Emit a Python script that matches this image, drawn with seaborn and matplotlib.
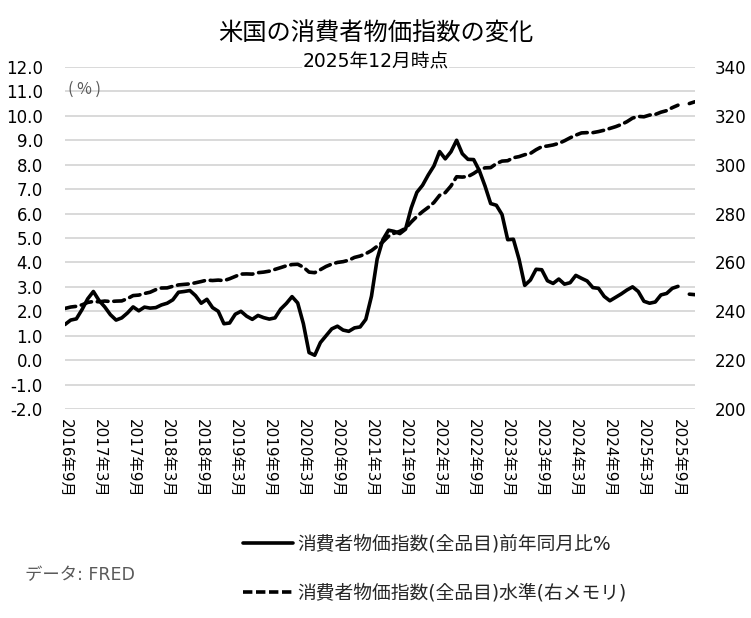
import numpy as np
import pandas as pd
import matplotlib
matplotlib.use('Agg')
import matplotlib.pyplot as plt
from matplotlib.lines import Line2D
import seaborn as sns

# Monthly data, 2016年9月 .. 2025年12月 (2025年10月 missing)
months = pd.date_range('2016-09-01', '2025-12-01', freq='MS')

cpi_yoy = [
    1.46, 1.64, 1.69, 2.07,
    2.51, 2.81, 2.44, 2.18, 1.86, 1.64, 1.73, 1.93, 2.18, 2.02, 2.17, 2.13,
    2.15, 2.26, 2.33, 2.47, 2.78, 2.81, 2.85, 2.64, 2.33, 2.49, 2.15, 2.00,
    1.49, 1.52, 1.88, 2.00, 1.80, 1.67, 1.83, 1.74, 1.68, 1.73, 2.09, 2.32,
    2.60, 2.34, 1.49, 0.31, 0.20, 0.72, 1.00, 1.28, 1.39, 1.23, 1.18, 1.32,
    1.36, 1.67, 2.62, 4.14, 4.93, 5.32, 5.27, 5.18, 5.36, 6.23, 6.87, 7.16,
    7.58, 7.95, 8.54, 8.24, 8.53, 9.00, 8.45, 8.22, 8.21, 7.76, 7.13, 6.41,
    6.34, 5.96, 4.93, 4.95, 4.13, 3.06, 3.28, 3.72, 3.70, 3.25, 3.14, 3.32,
    3.11, 3.17, 3.47, 3.35, 3.24, 2.97, 2.94, 2.61, 2.43, 2.57, 2.71, 2.87,
    3.00, 2.81, 2.41, 2.33, 2.38, 2.67, 2.73, 2.94, 3.02, np.nan, 2.70, 2.68,
]

cpi_level = [
    241.176, 241.741, 242.026, 242.637,
    243.618, 244.006, 243.892, 244.193, 244.004, 244.163, 244.243, 245.183, 246.435, 246.626, 247.284, 247.805,
    248.859, 249.529, 249.577, 250.227, 250.792, 251.018, 251.214, 251.663, 252.182, 252.772, 252.594, 252.767,
    252.561, 253.319, 254.277, 255.233, 255.296, 255.213, 255.802, 256.036, 256.430, 257.155, 257.879, 258.630,
    259.127, 259.250, 258.076, 256.032, 255.802, 257.042, 258.352, 259.316, 259.997, 260.319, 260.911, 262.045,
    262.639, 263.573, 264.847, 266.625, 268.404, 270.710, 271.965, 272.752, 273.942, 276.528, 278.824, 280.806,
    282.542, 284.525, 287.467, 288.582, 291.299, 295.072, 294.940, 295.162, 296.421, 297.979, 298.708, 298.808,
    300.456, 301.476, 301.643, 302.858, 303.316, 304.099, 304.615, 306.138, 307.374, 307.653, 308.087, 308.735,
    309.794, 311.022, 312.107, 313.016, 313.140, 313.131, 313.566, 314.131, 314.851, 315.564, 316.449, 317.603,
    319.086, 319.775, 319.615, 320.321, 320.580, 321.500, 322.132, 323.364, 324.368, np.nan, 325.030, 325.780,
]

label_yoy = '消費者物価指数(全品目)前年同月比%'
label_level = '消費者物価指数(全品目)水準(右メモリ)'

df = pd.DataFrame({'month': months, 'yoy': cpi_yoy, 'level': cpi_level})
df['x'] = np.arange(len(df))
# split into segments at missing months so the line breaks there
df['seg'] = df['yoy'].isna().cumsum()
df = df.dropna()

sns.set_theme(style='white')
plt.rcParams['font.family'] = ['DejaVu Sans', 'Noto Sans CJK JP']

fig = plt.figure(figsize=(7.51, 6.18), dpi=100)
ax = fig.add_axes([65 / 751, 1 - 409 / 618, 630 / 751, 342 / 618])
ax2 = ax.twinx()

lw = 2.6
dash = (0, (3.0, 1.6))
sns.lineplot(data=df, x='x', y='yoy', units='seg', estimator=None,
             color='black', linewidth=lw, ax=ax, legend=False)
sns.lineplot(data=df, x='x', y='level', units='seg', estimator=None,
             color='black', linewidth=lw, ax=ax2, legend=False)
for ln in ax2.get_lines():
    ln.set_linestyle(dash)
    ln.set_dash_capstyle('round')

ax.set_ylim(-2, 12)
ax.set_yticks(np.arange(-2, 12.1, 1))
ax.set_yticklabels([f'{v:.1f}' for v in np.arange(-2, 12.1, 1)])
ax2.set_ylim(200, 340)
ax2.set_yticks(np.arange(200, 341, 20))

ax.set_xlim(0, len(months) - 1)
tick_pos = np.arange(0, len(months), 6)
ax.set_xticks(tick_pos)
ax.set_xticklabels([f'{m.year}年{m.month}月' for m in months[tick_pos]],
                   rotation=270, fontsize=11)

ax.grid(axis='y', color='#d9d9d9', linewidth=1.4)
ax.grid(axis='x', visible=False)
ax.set_axisbelow(True)
for a in (ax, ax2):
    for s in a.spines.values():
        s.set_visible(False)
    a.set_xlabel('')
    a.set_ylabel('')
ax.tick_params(axis='y', length=0, pad=16, labelsize=12, colors='black')
ax.tick_params(axis='x', length=0, pad=7, colors='black')
ax2.tick_params(axis='y', length=0, pad=14, labelsize=12, colors='black')

ax.text(3 / 630, 1 - (89 - 67) / 342, '( % )', transform=ax.transAxes,
        fontsize=11.5, color='#595959', va='center', ha='left',
        family=['Noto Sans CJK JP'])

fig.text(0.5, 1 - 33 / 618, '米国の消費者物価指数の変化', ha='center', va='center',
         fontsize=17.5, color='black')
fig.text(0.5, 1 - 62 / 618, '2025年12月時点', ha='center', va='center',
         fontsize=13.5, color='black',
         bbox=dict(facecolor='white', edgecolor='none', pad=0))

handles = [Line2D([], [], color='black', linewidth=lw),
           Line2D([], [], color='black', linewidth=lw, linestyle=(0, (2.6, 1.0)))]
fig.legend(handles, [label_yoy, label_level], loc='upper left',
           bbox_to_anchor=(243 / 751, 1 - 535 / 618), frameon=False,
           borderaxespad=0, borderpad=0,
           fontsize=13.5, handlelength=2.65, handletextpad=0.27, labelspacing=1.55)

fig.text(25 / 751, 1 - 575 / 618, 'データ: FRED', ha='left', va='center',
         fontsize=12.5, color='#595959')

fig.savefig('out.png', dpi=100)
